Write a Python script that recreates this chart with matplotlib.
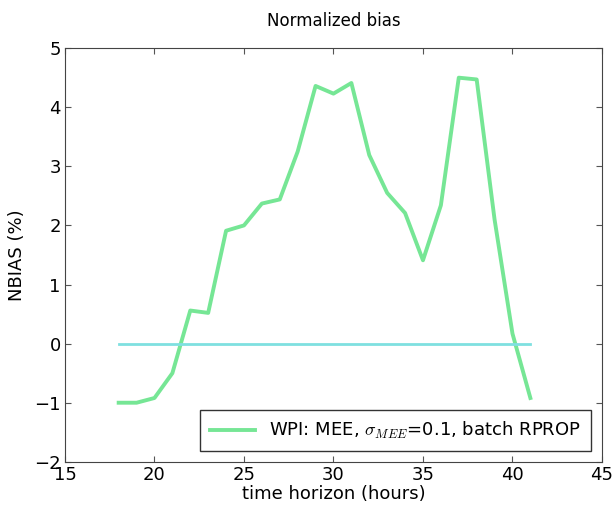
import numpy as np
import matplotlib
matplotlib.use('Agg')
import matplotlib.pyplot as plt

hours = [18, 19, 20, 21, 22, 23, 24, 25, 26, 27, 28, 29, 30, 31,
         32, 33, 34, 35, 36, 37, 38, 39, 40, 41]
nbias = [-1.0, -1.0, -0.92, -0.5, 0.56, 0.52, 1.91, 2.0, 2.37, 2.44, 3.25, 4.36,
         4.23, 4.41, 3.19, 2.55, 2.21, 1.41, 2.34, 4.5, 4.47, 2.1, 0.17, -0.92]
label = r'WPI: MEE, $\sigma_{MEE}$=0.1, batch RPROP'

plt.rcParams['mathtext.fontset'] = 'cm'
plt.rcParams['font.size'] = 13

fig = plt.figure(figsize=(6.13, 5.12), dpi=100)
ax = fig.add_axes([0.106, 0.098, 0.876, 0.808])

ax.plot(hours, nbias, color='#5ee283', lw=2.8, alpha=0.85, label=label)
ax.plot([hours[0], hours[-1]], [0, 0], color='#7fe0e0', lw=2)

ax.set_xlim(15, 45)
ax.set_ylim(-2, 5)
ax.set_xticks(np.arange(15, 46, 5))
ax.set_yticks(np.arange(-2, 6, 1))
ax.tick_params(direction='in', top=True, right=True, length=4, pad=3,
               color='#555555')
for s in ax.spines.values():
    s.set_color('#444444')
ax.set_xlabel('time horizon (hours)', labelpad=1)
ax.set_ylabel('NBIAS (%)', labelpad=6)
ax.set_title('Normalized bias', fontsize=12, pad=16)

leg = ax.legend(loc='lower right', fancybox=False, framealpha=1, borderaxespad=0.6,
                handlelength=2.5, borderpad=0.55)
leg.get_frame().set_edgecolor('#333333')

fig.savefig('out.png', dpi=100)
